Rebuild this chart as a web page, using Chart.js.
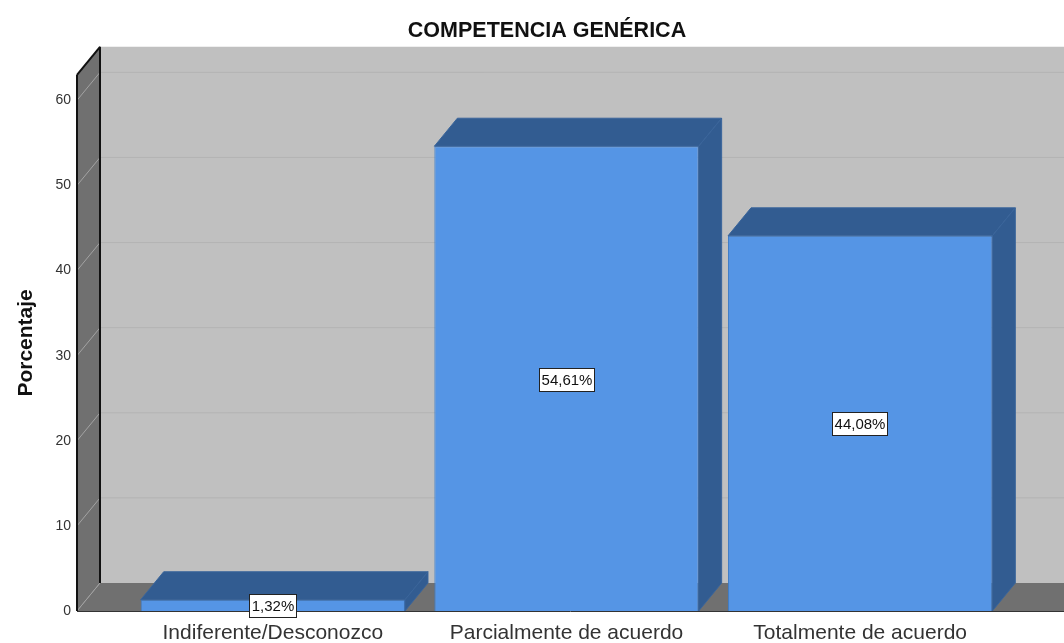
<!DOCTYPE html>
<html><head><meta charset="utf-8">
<style>html,body{margin:0;padding:0;background:#fff}#w{position:relative;width:1064px;height:643px}</style>
<script src="https://cdn.jsdelivr.net/npm/chart.js@4"></script>
</head><body><div id="w"><canvas id="c" width="1064" height="643"></canvas></div>
<script>
const categories = ["Indiferente/Desconozco", "Parcialmente de acuerdo", "Totalmente de acuerdo"];
const percentages = [1.32, 54.61, 44.08];
const valueLabels = ["1,32%", "54,61%", "44,08%"];
const yAxisMax = 63;
const yAxisStep = 10;
const titleText = "COMPETENCIA GENÉRICA";
const yTitleText = "Porcentaje";

const DX = 23, DY = -28, WALL_LEFT = 77, PAGE_RIGHT = 1064;
const FONT = '"Liberation Sans", Arial, sans-serif';

function poly(ctx, pts, fill, stroke) {
  ctx.beginPath();
  pts.forEach((p, i) => i ? ctx.lineTo(p[0], p[1]) : ctx.moveTo(p[0], p[1]));
  ctx.closePath();
  ctx.fillStyle = fill; ctx.fill();
  if (stroke) { ctx.strokeStyle = stroke; ctx.lineWidth = 1; ctx.stroke(); }
}
function line(ctx, x1, y1, x2, y2, color, w) {
  ctx.beginPath(); ctx.moveTo(x1, y1); ctx.lineTo(x2, y2);
  ctx.strokeStyle = color; ctx.lineWidth = w; ctx.stroke();
}
const scene = {
  id: 'scene',
  afterLayout(chart) { chart.titleBlock.left = 30; chart.titleBlock.right = PAGE_RIGHT; },
  beforeDatasetsDraw(chart) {
    const { ctx, scales: { y } } = chart;
    const base = y.getPixelForValue(0), top = y.getPixelForValue(yAxisMax);
    const bx = WALL_LEFT + DX;
    ctx.save();
    poly(ctx, [[bx, top + DY], [PAGE_RIGHT, top + DY], [PAGE_RIGHT, base + DY], [bx, base + DY]], '#c0c0c0');
    poly(ctx, [[WALL_LEFT, top], [bx, top + DY], [bx, base + DY], [WALL_LEFT, base]], '#707070');
    poly(ctx, [[WALL_LEFT, base], [bx, base + DY], [PAGE_RIGHT, base + DY], [PAGE_RIGHT, base]], '#707070');
    y.ticks.forEach(t => {
      const py = y.getPixelForValue(t.value);
      if (t.value > 0) line(ctx, bx, py + DY, PAGE_RIGHT, py + DY, '#b3b3b3', 1);
      line(ctx, WALL_LEFT, py, bx, py + DY, '#a3a3a3', 1);
    });
    line(ctx, WALL_LEFT, top, WALL_LEFT, base, '#111', 2);
    line(ctx, bx, top + DY, bx, base + DY, '#111', 2);
    line(ctx, WALL_LEFT, top, bx, top + DY, '#111', 2);
    line(ctx, WALL_LEFT, base + 0.5, PAGE_RIGHT, base + 0.5, '#333', 1);
    ctx.restore();
  },
  afterDatasetsDraw(chart) {
    const { ctx } = chart;
    const bars = chart.getDatasetMeta(0).data;
    ctx.save();
    bars.forEach((b, i) => {
      const l = b.x - b.width / 2, r = b.x + b.width / 2, t = b.y, bt = b.base;
      poly(ctx, [[l, t], [l + DX, t + DY], [r + DX, t + DY], [r, t]], '#325c91', '#3a659b');
      poly(ctx, [[r, t], [r + DX, t + DY], [r + DX, bt + DY], [r, bt]], '#325c91', '#3a659b');
    });
    ctx.font = '15px ' + FONT;
    ctx.textAlign = 'center'; ctx.textBaseline = 'middle';
    bars.forEach((b, i) => {
      const cy = Math.round((b.y + b.base) / 2) + 1, cx = Math.round(b.x);
      const w = Math.round(ctx.measureText(valueLabels[i]).width) + 5, h = 24;
      const bl = Math.floor(cx - w / 2), bt = cy - h / 2;
      ctx.fillStyle = '#fff'; ctx.fillRect(bl, bt, w, h);
      ctx.strokeStyle = '#222'; ctx.lineWidth = 1;
      ctx.strokeRect(bl + .5, bt + .5, w - 1, h - 1);
      ctx.fillStyle = '#111'; ctx.fillText(valueLabels[i], cx, cy + 1);
    });
    ctx.restore();
  }
};
new Chart(document.getElementById('c'), {
  type: 'bar',
  data: { labels: categories, datasets: [{
    data: percentages, backgroundColor: '#5595e5', borderColor: '#3f7dc8', borderWidth: 1,
    barPercentage: 0.9, categoryPercentage: 1
  }]},
  options: {
    responsive: false, animation: false,
    layout: { padding: { left: 0, right: 57, top: 0, bottom: 0 } },
    plugins: {
      legend: { display: false }, tooltip: { enabled: false },
      title: { display: true, text: titleText, color: '#111',
        font: { family: FONT, size: 21.5, weight: 'bold' },
        padding: { top: 18, bottom: 31 } }
    },
    scales: {
      x: {
        grid: { display: false, drawTicks: false }, border: { display: false },
        ticks: { color: '#333', font: { family: FONT, size: 21 }, padding: 10, maxRotation: 0, autoSkip: false },
        afterFit(s) { s.height = 32; s.paddingLeft = 0; s.paddingRight = 0; }
      },
      y: {
        min: 0, max: yAxisMax,
        grid: { display: false, drawTicks: false }, border: { display: false },
        afterBuildTicks(s) { s.ticks = [0,1,2,3,4,5,6].map(i => ({ value: i * yAxisStep })); },
        ticks: { color: '#333', font: { family: FONT, size: 14 }, padding: 55, stepSize: yAxisStep },
        title: { display: true, text: yTitleText, color: '#111',
          font: { family: FONT, size: 21, weight: 'bold' }, padding: { top: 14, bottom: 0 } },
        afterFit(s) { s.width = 126; s.paddingTop = 0; s.paddingBottom = 0; }
      }
    }
  },
  plugins: [scene]
});
</script></body></html>
